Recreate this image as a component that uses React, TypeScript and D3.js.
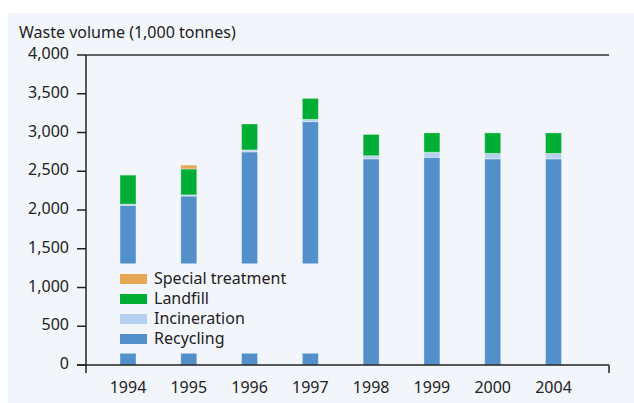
import React from "react";
import * as d3 from "d3";

const years = ["1994", "1995", "1996", "1997", "1998", "1999", "2000", "2004"];
const recycling = [2060, 2180, 2750, 3140, 2660, 2680, 2660, 2660];
const incineration = [15, 15, 25, 30, 40, 65, 70, 70];
const landfill = [375, 335, 335, 270, 275, 250, 265, 265];
const special = [0, 50, 0, 0, 0, 0, 0, 0];
const seriesNames = ["Recycling", "Incineration", "Landfill", "Special treatment"];
const seriesColors = ["#538fca", "#b6d1ef", "#00ae36", "#e8a755"];
const yTicks = [0, 500, 1000, 1500, 2000, 2500, 3000, 3500, 4000];

const FONT = "'Noto Sans', 'Open Sans', sans-serif";

export default function App() {
  const W = 634, H = 403;
  const x0 = 86, x1 = 609, yTop = 55, yBot = 365;
  const y = d3.scaleLinear().domain([0, 4000]).range([yBot, yTop]);
  const xc = d3.scalePoint<string>().domain(years).range([128, 553.5]);
  const barW = 16;
  const rows = years.map((yr, i) => ({
    year: yr,
    Recycling: recycling[i],
    Incineration: incineration[i],
    Landfill: landfill[i],
    "Special treatment": special[i],
  }));
  const stacked = d3.stack<any>().keys(seriesNames)(rows);
  const fmt = d3.format(",");
  const legendOrder = [3, 2, 1, 0];

  return (
    <svg width={W} height={H} style={{ position: "absolute", left: 0, top: 0 }}>
      <rect x={8} y={13} width={W - 8} height={H - 13} fill="#f2f5fa" />
      <text x={19} y={38} fontFamily={FONT} fontSize={16} fill="#222">
        Waste volume (1,000 tonnes)
      </text>
      {stacked.map((s, si) => (
        <g key={s.key}>
          {s.map((d, i) =>
            d[1] - d[0] > 0 ? (
              <rect
                key={i}
                x={(xc(years[i]) as number) - barW / 2}
                y={y(d[1])}
                width={barW}
                height={y(d[0]) - y(d[1])}
                fill={seriesColors[si]}
                stroke="#ffffff"
                strokeOpacity={0.35}
                strokeWidth={1}
              />
            ) : null
          )}
        </g>
      ))}
      {/* legend box covering bars */}
      <rect x={100} y={263.5} width={240} height={90} fill="#f2f5fa" />
      {legendOrder.map((si, k) => (
        <g key={si} transform={`translate(120, ${274 + k * 20})`}>
          <rect x={0} y={0} width={27} height={10} fill={seriesColors[si]} />
          <text x={34} y={10} fontFamily={FONT} fontSize={16} fill="#222">
            {seriesNames[si]}
          </text>
        </g>
      ))}
      {/* axes */}
      <line x1={x0} y1={yTop} x2={x1} y2={yTop} stroke="#333" strokeWidth={1.5} />
      <line x1={x0} y1={yTop} x2={x0} y2={373} stroke="#222" strokeWidth={1.5} />
      <line x1={77} y1={yBot} x2={x1} y2={yBot} stroke="#222" strokeWidth={1.5} />
      <line x1={x1} y1={yBot} x2={x1} y2={373} stroke="#222" strokeWidth={1.5} />
      {yTicks.map((t) => (
        <g key={t}>
          <line x1={77} y1={y(t)} x2={x0} y2={y(t)} stroke="#222" strokeWidth={1.5} />
          <text
            x={69}
            y={y(t) + 4}
            textAnchor="end"
            fontFamily={FONT}
            fontSize={16}
            fill="#222"
          >
            {fmt(t)}
          </text>
        </g>
      ))}
      {years.map((yr) => (
        <text
          key={yr}
          x={xc(yr) as number}
          y={393}
          textAnchor="middle"
          fontFamily={FONT}
          fontSize={16}
          fill="#222"
        >
          {yr}
        </text>
      ))}
    </svg>
  );
}
